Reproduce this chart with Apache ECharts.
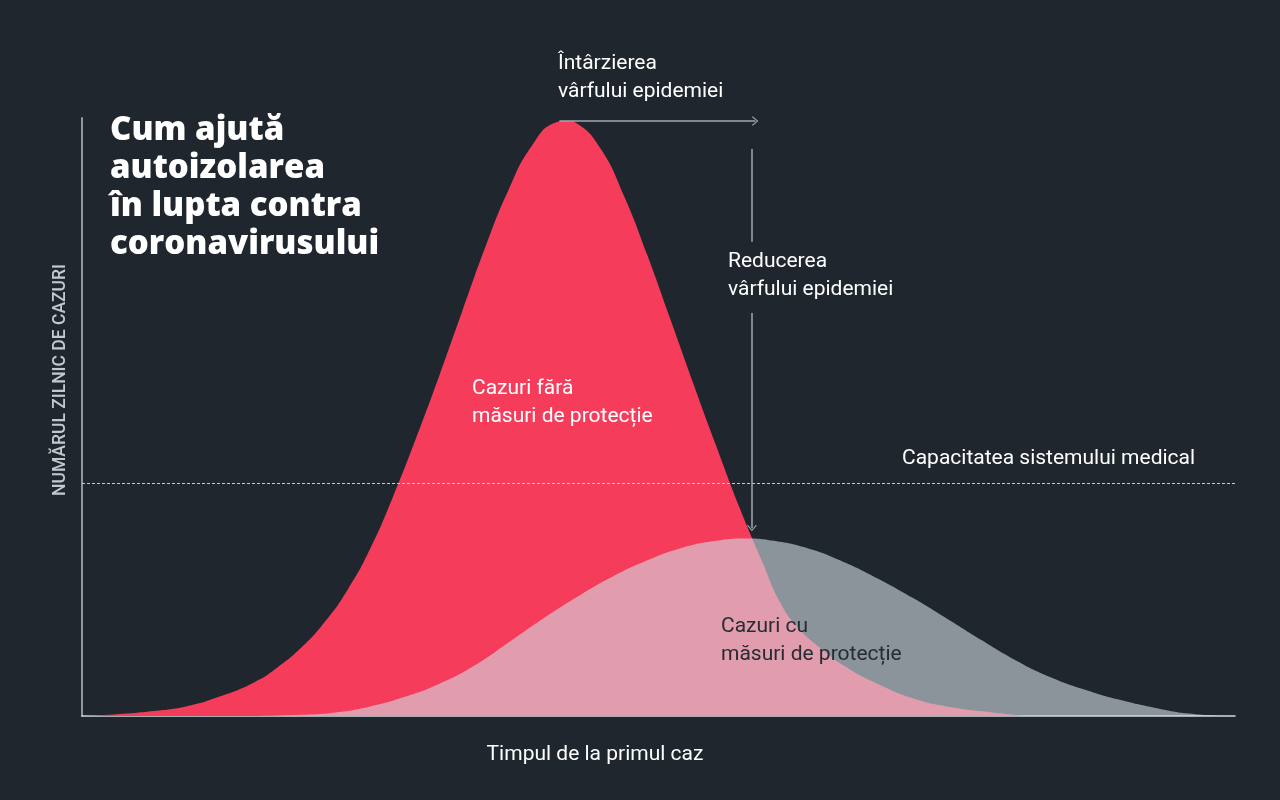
<!DOCTYPE html>
<html>
<head>
<meta charset="utf-8">
<script src="https://cdn.jsdelivr.net/npm/echarts@6/dist/echarts.min.js"></script>
<style>
  html, body { margin: 0; padding: 0; background: #1f262e; }
  #chart { width: 1280px; height: 800px; }
</style>
</head>
<body>
<div id="chart"></div>
<script>
// x: time since first case (0..100), y: daily cases (0..100)
var fara = [
  [0, 0], [3, 0.3], [6, 0.8], [9, 1.6], [12, 3.3], [15, 5.7], [17, 8.2],
  [19, 11.4], [21, 15.6], [23, 21.0], [25, 28.0], [27, 36.8], [29, 46.6],
  [31, 57.0], [33, 67.8], [35, 78.5], [37, 88.0], [39, 95.3], [41, 99.2],
  [42, 99.5], [43, 99.0], [45, 94.8], [47, 87.0], [49, 77.2], [51, 66.5],
  [53, 55.7], [55, 45.2], [57, 35.0], [59, 25.8], [60.5, 19.2], [62, 15.0],
  [64, 11.4], [66.5, 7.9], [69, 5.4], [72, 3.0], [75, 1.6], [79, 0.6], [82, 0]
];
var cu = [
  [15, 0], [19, 0.2], [22, 0.6], [25, 1.6], [28, 3.2], [31, 5.4], [34, 8.4],
  [37, 12.3], [40, 16.3], [43, 20.0], [46, 23.3], [49, 26.0], [52, 28.1],
  [55, 29.3], [57.5, 29.7], [60, 29.3], [63, 28.0], [66, 25.8], [69, 23.0],
  [72, 19.8], [75, 16.3], [78, 12.7], [81, 9.3], [84, 6.5], [87, 4.4],
  [90, 2.7], [93, 1.4], [96, 0.4], [99, 0]
];
var capacitate = 39;
var intarziere = [[41.4, 99.5], [58.4, 99.5]];
var reducereSus = [[58.1, 94.8], [58.1, 79.3]];
var reducereJos = [[58.1, 67.4], [58.1, 31.4]];

var font = 'Roboto, "Noto Sans", sans-serif';
var chevron = 'path://M0,10 L5,0 L10,10 L8.6,10 L5,2.6 L1.4,10 Z';

var chart = echarts.init(document.getElementById('chart'));

function txt(left, top, text, color) {
  return {
    type: 'text', left: left, top: top, z: 10,
    style: { text: text, fill: color || '#ffffff', font: '21px ' + font, lineHeight: 28 }
  };
}

chart.setOption({
  backgroundColor: '#1f262e',
  animation: false,
  grid: { left: 82, right: 45, top: 118, bottom: 84 },
  xAxis: {
    type: 'value', min: 0, max: 100,
    axisLine: { show: true, lineStyle: { color: '#d5d9dd', width: 1.5 } },
    axisTick: { show: false }, axisLabel: { show: false }, splitLine: { show: false }
  },
  yAxis: {
    type: 'value', min: 0, max: 100,
    axisLine: { show: true, lineStyle: { color: '#8f969d', width: 2 } },
    axisTick: { show: false }, axisLabel: { show: false }, splitLine: { show: false }
  },
  series: [
    {
      type: 'line', data: [], z: 1,
      markLine: {
        silent: true, symbol: 'none',
        label: { show: false },
        lineStyle: { color: '#c9cdd1', width: 1, type: [3, 2] },
        data: [{ yAxis: capacitate }]
      }
    },
    {
      name: 'Cazuri fără măsuri de protecție',
      type: 'line', data: fara, smooth: 0.5, showSymbol: false, z: 2,
      lineStyle: { width: 0 },
      areaStyle: { color: '#f63c5b', opacity: 1 }
    },
    {
      name: 'Cazuri cu măsuri de protecție',
      type: 'line', data: cu, smooth: 0.5, showSymbol: false, z: 3,
      lineStyle: { width: 0 },
      areaStyle: { color: 'rgb(211,221,228)', opacity: 0.6 }
    },
    {
      type: 'line', data: [], z: 4,
      markLine: {
        silent: true,
        label: { show: false },
        lineStyle: { color: '#a3a9b0', width: 1.5, type: 'solid' },
        data: [
          [{ coord: intarziere[0], symbol: 'none' }, { coord: intarziere[1], symbol: chevron, symbolSize: [10, 6] }],
          [{ coord: reducereSus[0], symbol: 'none' }, { coord: reducereSus[1], symbol: 'none' }],
          [{ coord: reducereJos[0], symbol: 'none' }, { coord: reducereJos[1], symbol: chevron, symbolSize: [10, 6] }]
        ]
      }
    }
  ],
  graphic: [
    {
      type: 'text', left: 110, top: 112, z: 10,
      style: {
        text: 'Cum ajută\nautoizolarea\nîn lupta contra\ncoronavirusului',
        fill: '#ffffff', font: '800 33px "Open Sans", sans-serif', lineHeight: 38
      }
    },
    txt(558, 50, 'Întârzierea\nvârfului epidemiei'),
    txt(728, 248, 'Reducerea\nvârfului epidemiei'),
    txt(902, 445, 'Capacitatea sistemului medical'),
    txt(472, 375, 'Cazuri fără\nmăsuri de protecție'),
    txt(721, 613, 'Cazuri cu\nmăsuri de protecție', '#262c33'),
    {
      type: 'text', x: 595, y: 755, z: 10,
      style: { text: 'Timpul de la primul caz', fill: '#ffffff', font: '21px ' + font, align: 'center', verticalAlign: 'middle' }
    },
    {
      type: 'text', x: 61, y: 380, rotation: Math.PI / 2, z: 10,
      style: { text: 'NUMĂRUL ZILNIC DE CAZURI', fill: '#c3c8cd', font: '500 17.5px ' + font, align: 'center', verticalAlign: 'middle' }
    }
  ]
});
</script>
</body>
</html>
